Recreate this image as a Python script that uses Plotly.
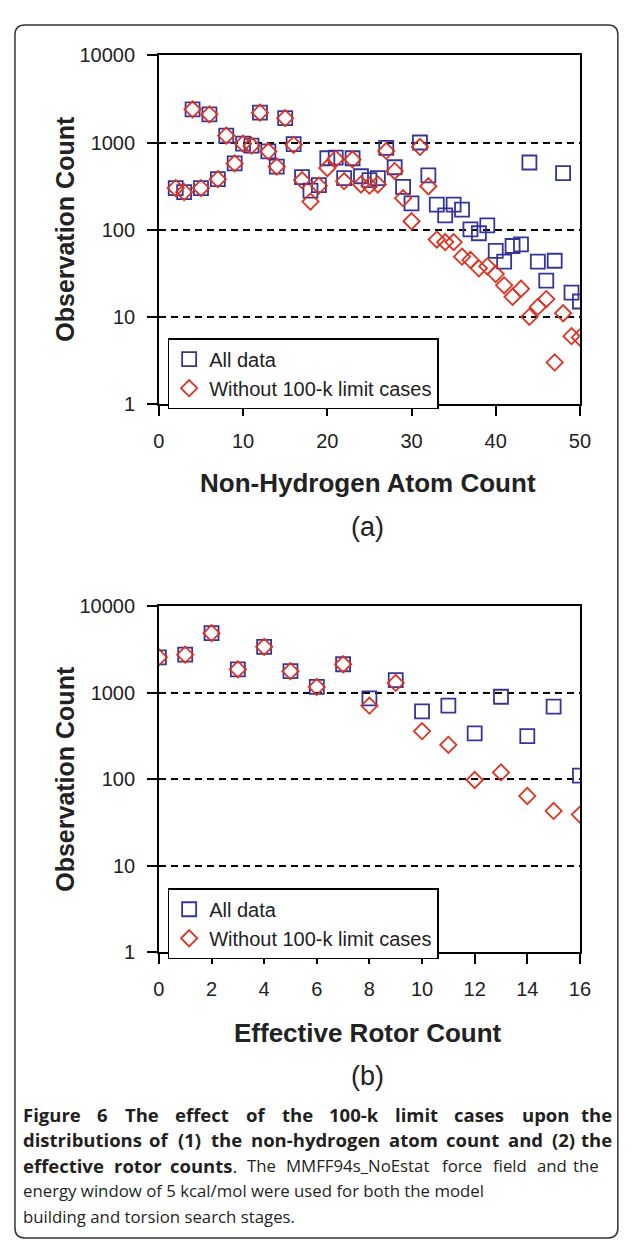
import plotly.graph_objects as go

# The page adds an 8px body margin, so the figure is 16px smaller than the window
W, H = 616, 1237
OFF = 8

# ---------------- data ----------------
# Panel (a): non-hydrogen atom count
atom_x = list(range(2, 51))
atom_all = [300, 270, 2400, 300, 2100, 380, 1200, 575, 970, 920, 2200, 790, 530, 1900, 960, 400,
            280, 325, 660, 670, 390, 660, 410, 370, 390, 870, 520, 310, 200, 1000, 420,
            194, 146, 194, 170, 101, 91, 112, 57, 43, 65, 68, 590, 43, 26, 44, 445, 19, 15]
atom_wo = [300, 270, 2400, 300, 2100, 380, 1200, 575, 970, 920, 2200, 790, 530, 1900, 940, 370,
           210, 320, 510, 650, 360, 640, 330, 320, 330, 800, 470, 230, 125, 890, 315,
           77, 72, 72, 49, 45, 36, 38, 31, 23, 17, 21, 10, 13, 16, 3, 11, 6, 5.8]

# Panel (b): effective rotor count
rot_x = list(range(0, 17))
rot_all = [2570, 2760, 4900, 1870, 3400, 1780, 1170, 2140, 860, 1400, 610, 710, 340, 900, 315, 690, 110]
rot_wo = [2570, 2760, 4900, 1870, 3400, 1780, 1170, 2140, 710, 1300, 360, 250, 98, 120, 64, 43, 39]

series_names = ["All data", "Without 100-k limit cases"]
y_tickvals = [1, 10, 100, 1000, 10000]
y_ticktext = ["1", "10", "100", "1000", "10000"]
xa_ticks = [0, 10, 20, 30, 40, 50]
xb_ticks = [0, 2, 4, 6, 8, 10, 12, 14, 16]

caption_lines = [
    [("Figure", 1), ("6", 1), ("The", 1), ("effect", 1), ("of", 1), ("the", 1), ("100-k", 1),
     ("limit", 1), ("cases", 1), ("upon", 1), ("the", 1)],
    [("distributions", 1), ("of", 1), ("(1)", 1), ("the", 1), ("non-hydrogen", 1), ("atom", 1),
     ("count", 1), ("and", 1), ("(2)", 1), ("the", 1)],
    [("effective", 1), ("rotor", 1), ("counts", 2), ("The", 0), ("MMFF94s_NoEstat", 0), ("force", 0),
     ("field", 0), ("and", 0), ("the", 0)],
]
caption_plain = [
    "energy window of 5 kcal/mol were used for both the model",
    "building and torsion search stages.",
]


# ---------------- helpers (window pixels -> paper) ----------------
def PX(p):
    return (p - OFF) / W


def PY(p):
    return 1 - (p - OFF) / H


ARIAL = "Liberation Sans, Arial, sans-serif"
CAP = "Open Sans, Noto Sans, sans-serif"
BLUE = "#34349a"
RED = "#dd3322"

sq = dict(symbol="square-open", size=14, color=BLUE, line=dict(width=1.8, color=BLUE))
dm = dict(symbol="diamond-open", size=12.5, color=RED, line=dict(width=1.8, color=RED))

fig = go.Figure()
fig.add_trace(go.Scatter(x=atom_x, y=atom_all, mode="markers", marker=sq, name=series_names[0],
                         xaxis="x", yaxis="y", legend="legend"))
fig.add_trace(go.Scatter(x=atom_x, y=atom_wo, mode="markers", marker=dm, name=series_names[1],
                         xaxis="x", yaxis="y", legend="legend"))
fig.add_trace(go.Scatter(x=rot_x, y=rot_all, mode="markers", marker=sq, name=series_names[0],
                         xaxis="x2", yaxis="y2", legend="legend2"))
fig.add_trace(go.Scatter(x=rot_x, y=rot_wo, mode="markers", marker=dm, name=series_names[1],
                         xaxis="x2", yaxis="y2", legend="legend2"))

tickfont = dict(family=ARIAL, size=20, color="#222")
ax_common = dict(showline=True, linecolor="black", linewidth=1.5, mirror=True,
                 ticks="outside", ticklen=10, tickwidth=1.5, tickcolor="black",
                 tickfont=tickfont, zeroline=False)

x_dom = [PX(157), PX(590)]
legfont = dict(family=ARIAL, size=20, color="#222")
leg_common = dict(xanchor="left", yanchor="top", bgcolor="white", bordercolor="black",
                  borderwidth=1.5, font=legfont, tracegroupgap=0, itemwidth=30)
fig.update_layout(
    width=W, height=H,
    margin=dict(l=0, r=0, t=0, b=0),
    paper_bgcolor="white", plot_bgcolor="white",
    xaxis=dict(domain=x_dom, range=[0, 50], tickvals=xa_ticks, showgrid=False,
               anchor="y", ticklabelstandoff=8, **ax_common),
    yaxis=dict(domain=[PY(400), PY(45)], type="log", range=[0, 4], tickvals=y_tickvals,
               ticktext=y_ticktext, showgrid=True, gridcolor="black", gridwidth=1.5,
               griddash="7px,5px", anchor="x", ticklabelstandoff=8, **ax_common),
    xaxis2=dict(domain=x_dom, range=[0, 16], tickvals=xb_ticks, showgrid=False,
                anchor="y2", ticklabelstandoff=8, **ax_common),
    yaxis2=dict(domain=[PY(958), PY(606)], type="log", range=[0, 4], tickvals=y_tickvals,
                ticktext=y_ticktext, showgrid=True, gridcolor="black", gridwidth=1.5,
                griddash="7px,5px", anchor="x2", ticklabelstandoff=8, **ax_common),
    legend=dict(x=PX(166), y=PY(333), **leg_common),
    legend2=dict(x=PX(166), y=PY(893), **leg_common),
    showlegend=True,
)

ann = []


def text_at(x, y, t, size, family=ARIAL, color="#222", angle=0, xanchor="center"):
    ann.append(dict(x=PX(x), y=PY(y), xref="paper", yref="paper", text=t, showarrow=False,
                    font=dict(family=family, size=size, color=color), textangle=angle,
                    xanchor=xanchor, yanchor="middle"))


# axis titles and panel labels
text_at(61, 222, "<b>Observation Count</b>", 25, angle=-90)
text_at(61, 782, "<b>Observation Count</b>", 25, angle=-90)
text_at(372, 480, "<b>Non-Hydrogen Atom Count</b>", 26)
text_at(372, 1040, "<b>Effective Rotor Count</b>", 26)
text_at(372, 525, "(a)", 27)
text_at(372, 1084, "(b)", 27)

# ---------------- caption (justified lines placed word by word) ----------------
BOLD_W = dict(zip("abcdefghijklmnopqrstuvwxyz",
                  [.590, .626, .512, .626, .593, .387, .556, .640, .298, .298, .604, .298, .956,
                   .640, .611, .626, .626, .439, .507, .404, .640, .567, .848, .582, .567, .497]))
REG_W = dict(zip("abcdefghijklmnopqrstuvwxyz",
                 [.556, .613, .476, .613, .561, .339, .548, .614, .253, .253, .525, .253, .930,
                  .614, .604, .613, .613, .408, .477, .353, .614, .501, .788, .501, .501, .460]))
OTHER_W = {"(": .34, ")": .34, "-": .32, ".": .27, "_": .43, "/": .37, "F": .55, "T": .56,
           "M": .93, "N": .78, "E": .55}


def word_w(word, bold, size):
    tab = BOLD_W if bold else REG_W
    w = 0.0
    for ch in word:
        if ch.isdigit():
            w += .572 if bold else .559
        else:
            w += tab.get(ch, OTHER_W.get(ch, .6))
    return w * size * 1.03


capc = "#231f20"
BSZ, RSZ = 18.5, 16.8
line_y = [1123, 1149, 1175, 1201, 1227]
line_end = [625, 625, 612]
x_start = 15
for li, words in enumerate(caption_lines):
    widths = []
    texts = []
    for w, kind in words:
        if kind == 1:
            widths.append(word_w(w, True, BSZ))
            texts.append("<b>" + w + "</b>")
        elif kind == 2:
            widths.append(word_w(w, True, BSZ) + word_w(".", False, RSZ))
            texts.append("<b>" + w + "</b>.")
        else:
            widths.append(word_w(w, False, RSZ))
            texts.append(w)
    gap = (line_end[li] - x_start - sum(widths)) / (len(words) - 1)
    x = x_start
    for i, (t, wd) in enumerate(zip(texts, widths)):
        size = RSZ if words[i][1] == 0 else BSZ
        if i == len(texts) - 1:
            text_at(line_end[li], line_y[li], t, size, family=CAP, color=capc, xanchor="right")
        else:
            text_at(x, line_y[li], t, size, family=CAP, color=capc, xanchor="left")
        x += wd + gap

for k, t in enumerate(caption_plain):
    text_at(x_start, line_y[3 + k], t, RSZ, family=CAP, color=capc, xanchor="left")

fig.update_layout(annotations=ann)

# rounded frame around the figure
x0, y0, x1, y1, r = 9, 14, 629, 1249, 10
path = (f"M {PX(x0 + r)},{PY(y0)} L {PX(x1 - r)},{PY(y0)} Q {PX(x1)},{PY(y0)} {PX(x1)},{PY(y0 + r)} "
        f"L {PX(x1)},{PY(y1 - r)} Q {PX(x1)},{PY(y1)} {PX(x1 - r)},{PY(y1)} "
        f"L {PX(x0 + r)},{PY(y1)} Q {PX(x0)},{PY(y1)} {PX(x0)},{PY(y1 - r)} "
        f"L {PX(x0)},{PY(y0 + r)} Q {PX(x0)},{PY(y0)} {PX(x0 + r)},{PY(y0)} Z")
fig.add_shape(type="path", path=path, xref="paper", yref="paper",
              line=dict(color="#333", width=1.5), layer="below")

fig.write_html("out.html")
